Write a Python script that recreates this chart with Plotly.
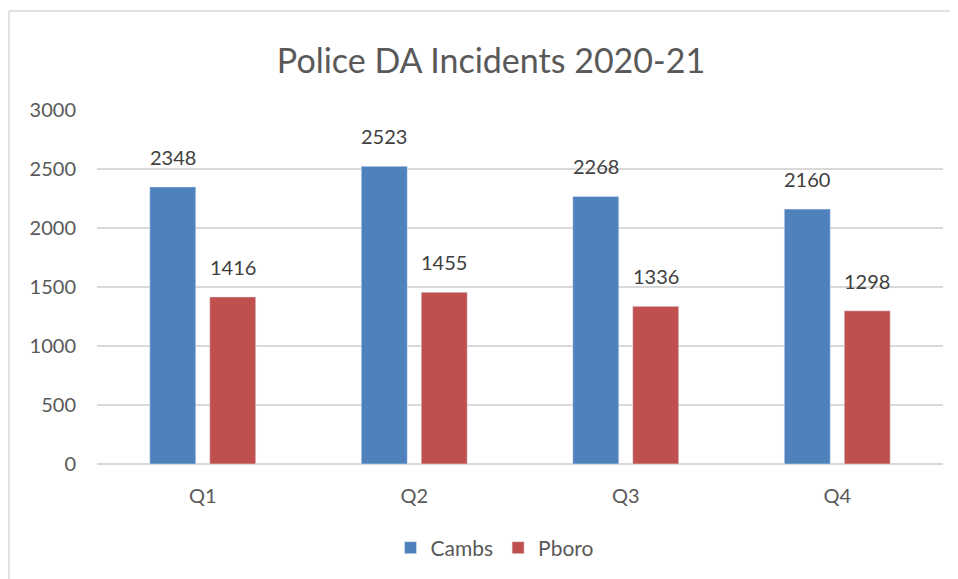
import plotly.graph_objects as go

quarters = ["Q1", "Q2", "Q3", "Q4"]
cambs = [2348, 2523, 2268, 2160]
pboro = [1416, 1455, 1336, 1298]

font_family = "Lato, Open Sans, sans-serif"

# the page body has an 8px margin, so the figure is sized/offset for that
W, H = 950, 571

fig = go.Figure()

fig.add_trace(go.Bar(x=quarters, y=cambs, name="Cambs", marker_color="#4F81BD"))
fig.add_trace(go.Bar(x=quarters, y=pboro, name="Pboro", marker_color="#C0504D"))

# Data labels sit a little above the bar tops, as in Excel
for series, shift in ((cambs, -30), (pboro, 30)):
    for q, v in zip(quarters, series):
        fig.add_annotation(
            x=q, y=v, text=str(v), showarrow=False,
            xshift=shift, yshift=16, yanchor="bottom",
            font=dict(family=font_family, size=20, color="#404040"),
        )

# light border of the chart area: only the left and top edges are in view
border = dict(color="#D9D9D9", width=1.5)
fig.add_shape(type="line", xref="paper", yref="paper",
              x0=-0.104, x1=-0.104, y0=-0.5, y1=1.28, line=border)
fig.add_shape(type="line", xref="paper", yref="paper",
              x0=-0.104, x1=1.1, y0=1.28, y1=1.28, line=border)

fig.update_layout(
    width=W,
    height=H,
    paper_bgcolor="white",
    plot_bgcolor="white",
    margin={"l": 89, "r": 15, "t": 102, "b": 115},
    barmode="group",
    bargap=0.433,
    bargroupgap=0.233,
    font=dict(family=font_family, color="#595959"),
    title=dict(
        text="Police DA Incidents 2020-21",
        x=483 / W, xanchor="center",
        y=1 - 53 / H, yanchor="middle",
        font=dict(size=34, color="#595959", family=font_family),
    ),
    legend=dict(
        orientation="h",
        x=487 / W, xref="container", xanchor="center",
        y=1 - 540 / H, yref="container", yanchor="middle",
        font=dict(size=21, color="#595959"),
        itemwidth=30,
    ),
    showlegend=True,
)

fig.update_xaxes(
    showgrid=False, showline=False, zeroline=False,
    ticks="", tickfont=dict(size=20, color="#595959"),
    ticklabelstandoff=18,
)
fig.update_yaxes(
    range=[0, 3000], dtick=500,
    showgrid=True, gridcolor="#D9D9D9", gridwidth=1.5,
    zeroline=True, zerolinecolor="#D9D9D9", zerolinewidth=1.5,
    showline=False, ticks="",
    tickfont=dict(size=20, color="#595959"),
    ticklabelstandoff=20,
)

fig.write_html("out.html")
